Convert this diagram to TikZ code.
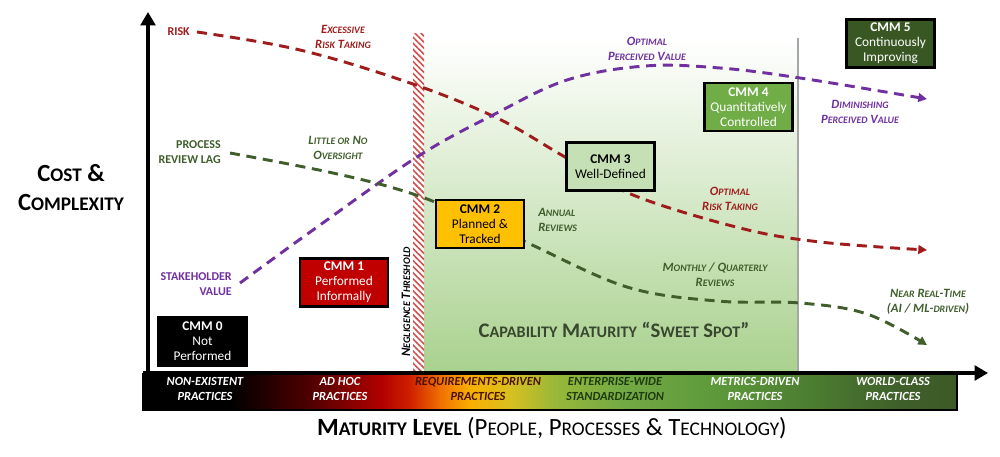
\documentclass[tikz,border=0pt]{standalone}
\usepackage{fontspec}
\setmainfont{Carlito}
\usetikzlibrary{arrows.meta,patterns.meta}
\makeatletter
\newcommand\sm[1]{{\fontsize{\fpeval{0.78*\f@size}}{\f@baselineskip}\selectfont #1}}
\makeatother
\definecolor{riskred}{HTML}{A01C1C}
\definecolor{procgreen}{HTML}{3F5E2B}
\definecolor{valpurple}{HTML}{7030A0}
\definecolor{cmmred}{HTML}{C00000}
\definecolor{cmmyellow}{HTML}{FFC000}
\definecolor{cmmlight}{HTML}{C5E0B4}
\definecolor{cmmgreen}{HTML}{70AD47}
\definecolor{cmmdark}{HTML}{385723}
\definecolor{sweetgreen}{HTML}{A9D18E}
\definecolor{sweettext}{HTML}{38472E}
\definecolor{hatchred}{HTML}{D0504D}
\definecolor{reqtext}{HTML}{4A1200}
\definecolor{entext}{HTML}{1E3A10}
\definecolor{ba}{HTML}{000000}
\definecolor{bb}{HTML}{500000}
\definecolor{bc}{HTML}{B00000}
\definecolor{bd}{HTML}{D02000}
\definecolor{be}{HTML}{F07000}
\definecolor{bf}{HTML}{F8B000}
\definecolor{bg}{HTML}{D8C020}
\definecolor{bh}{HTML}{98B838}
\definecolor{bi}{HTML}{74AA44}
\definecolor{bj}{HTML}{5C983A}
\definecolor{bk}{HTML}{4A7A30}
\definecolor{bl}{HTML}{3F5F2A}
\definecolor{bm}{HTML}{3C5A26}
\begin{document}
\begin{tikzpicture}[x=0.75pt,y=-0.75pt,
  cmmbox/.style={draw=black, line width=2pt, minimum width=66pt, minimum height=36pt,
    inner sep=0pt, align=center, font=\fontsize{10}{11.25}\selectfont},
  curve/.style={line width=2.2pt, dash pattern=on 7.5pt off 5pt,
    -{Triangle[length=6.5pt,width=6.5pt]}},
  sidelbl/.style={font=\fontsize{9}{11.25}\selectfont\bfseries, inner sep=0pt},
  itlbl/.style={font=\fontsize{9.5}{11.25}\selectfont\bfseries\itshape, align=center, inner sep=0pt},
  barlbl/.style={font=\fontsize{9.3}{11.25}\selectfont\bfseries\itshape, align=center, inner sep=0pt, text=white},
  axis/.style={line width=3pt, -{Triangle[length=10pt,width=11pt]}}
]
\useasboundingbox (0,0) rectangle (1000,457);

% sweet spot area
\shade[top color=white, bottom color=sweetgreen] (424,38) rectangle (798,373);
\draw[gray!70, line width=0.9pt] (798,38) -- (798,373);

% negligence threshold hatched bar
\fill[white] (413,33) rectangle (424,373);
\fill[pattern={Lines[angle=-45,distance=3.2pt,line width=1.2pt]}, pattern color=hatchred] (413,33) rectangle (424,373);
\node[rotate=90, font=\fontsize{9.7}{11.25}\selectfont\bfseries\itshape, inner sep=0pt] (negl) at (406,302) {N\sm{EGLIGENCE} T\sm{HRESHOLD}};

% curves
\coordinate (r0) at (197,32);
\coordinate (r1) at (300,50);
\coordinate (r2) at (410,83);
\coordinate (r3) at (497,118);
\coordinate (r4) at (565,157);
\coordinate (r5) at (633,195);
\coordinate (r6) at (740,228);
\coordinate (r7) at (820,242);
\coordinate (r8) at (927,250);
\draw[curve, riskred] plot[smooth, tension=0.6] coordinates {(r0) (r1) (r2) (r3) (r4) (r5) (r6) (r7) (r8)};

\coordinate (p0) at (240,283);
\coordinate (p1) at (313,230);
\coordinate (p2) at (417,157);
\coordinate (p3) at (493,115);
\coordinate (p4) at (567,80);
\coordinate (p5) at (645,66);
\coordinate (p6) at (720,68);
\coordinate (p7) at (800,78);
\coordinate (p8) at (927,99);
\draw[curve, valpurple] plot[smooth, tension=0.6] coordinates {(p0) (p1) (p2) (p3) (p4) (p5) (p6) (p7) (p8)};

\coordinate (g0) at (230,153);
\coordinate (g1) at (333,173);
\coordinate (g2) at (410,193);
\coordinate (g3) at (478,220);
\coordinate (g4) at (530,244);
\coordinate (g5) at (627,287);
\coordinate (g6) at (717,301);
\coordinate (g7) at (800,303);
\coordinate (g8) at (867,314);
\coordinate (g9) at (927,345);
\draw[curve, procgreen] plot[smooth, tension=0.6] coordinates {(g0) (g1) (g2) (g3) (g4) (g5) (g6) (g7) (g8) (g9)};

% CMM boxes
\node[cmmbox, fill=black, text=white] (c0) at (202.5,341.5) {\textbf{CMM 0}\\Not\\Performed};
\node[cmmbox, fill=cmmred, text=white] (c1) at (344,282.5) {\textbf{CMM 1}\\Performed\\Informally};
\node[cmmbox, fill=cmmyellow, text=black] (c2) at (480,224) {\textbf{CMM 2}\\Planned \&\\Tracked};
\node[cmmbox, fill=cmmlight, text=black] (c3) at (610.5,166.5) {\textbf{CMM 3}\\Well-Defined};
\node[cmmbox, fill=cmmgreen, text=white] (c4) at (748.5,107) {\textbf{CMM 4}\\Quantitatively\\Controlled};
\node[cmmbox, fill=cmmdark, text=white] (c5) at (890.5,43.5) {\textbf{CMM 5}\\Continuously\\Improving};

% curve labels
\node[sidelbl, text=riskred, anchor=east] (risklbl) at (190,32) {RISK};
\node[sidelbl, text=procgreen, anchor=east, align=right] (proclbl) at (221,152.5) {PROCESS\\REVIEW LAG};
\node[sidelbl, text=valpurple, anchor=east, align=right] (stakelbl) at (232,284.5) {STAKEHOLDER\\VALUE};
\node[itlbl, text=riskred] (excess) at (343,36.5) {E\sm{XCESSIVE}\\R\sm{ISK} T\sm{AKING}};
\node[itlbl, text=procgreen] (little) at (338,147.5) {L\sm{ITTLE OR} N\sm{O}\\O\sm{VERSIGHT}};
\node[itlbl, text=valpurple] (optpv) at (647,49) {O\sm{PTIMAL}\\P\sm{ERCEIVED} V\sm{ALUE}};
\node[itlbl, text=valpurple] (dimpv) at (860,112) {D\sm{IMINISHING}\\P\sm{ERCEIVED} V\sm{ALUE}};
\node[itlbl, text=riskred] (optrt) at (730,199) {O\sm{PTIMAL}\\R\sm{ISK} T\sm{AKING}};
\node[itlbl, text=procgreen, anchor=west, align=left] (annual) at (538,220) {A\sm{NNUAL}\\R\sm{EVIEWS}};
\node[itlbl, text=procgreen] (monthly) at (715,275) {M\sm{ONTHLY} / Q\sm{UARTERLY}\\R\sm{EVIEWS}};
\node[itlbl, text=procgreen] (nearrt) at (928,301.5) {N\sm{EAR} R\sm{EAL}-T\sm{IME}\\(AI / ML-\sm{DRIVEN})};
\node[font=\fontsize{15.5}{18}\selectfont\bfseries, text=sweettext, inner sep=0pt] (sweet) at (614,330) {C\sm{APABILITY} M\sm{ATURITY} ``S\sm{WEET} S\sm{POT}''};

% bottom bar
\foreach \xa/\xb/\ca/\cb in {143/230/ba/ba, 230/310/ba/bb, 310/380/bb/bc, 380/410/bc/bd, 410/440/bd/be, 440/470/be/bf, 470/510/bf/bg, 510/555/bg/bh, 555/620/bh/bi, 620/720/bi/bj, 720/820/bj/bk, 820/900/bk/bl, 900/957/bl/bm}
  \shade[left color=\ca, right color=\cb] (\xa,374) rectangle (\xb+0.6,410);
\draw[black, line width=0.8pt] (143,374) rectangle (957,410);
\node[barlbl] (b1) at (205,388.5) {NON-EXISTENT\\PRACTICES};
\node[barlbl] (b2) at (340,388.5) {AD HOC\\PRACTICES};
\node[barlbl, text=reqtext] (b3) at (478,388.5) {REQUIREMENTS-DRIVEN\\PRACTICES};
\node[barlbl, text=entext] (b4) at (615,388.5) {ENTERPRISE-WIDE\\STANDARDIZATION};
\node[barlbl] (b5) at (755,388.5) {METRICS-DRIVEN\\PRACTICES};
\node[barlbl] (b6) at (893,388.5) {WORLD-CLASS\\PRACTICES};

% axes
\coordinate (origin) at (148,374);
\coordinate (ytip) at (148,12);
\coordinate (xstart) at (143,373);
\coordinate (xtip) at (988,373);
\draw[axis] (origin) -- (ytip);
\draw[axis] (xstart) -- (xtip);

% axis titles
\node[font=\fontsize{18.5}{21.75}\selectfont\bfseries, align=center, inner sep=0pt] (cost) at (71,187.5) {C\sm{OST} \&\\C\sm{OMPLEXITY}};
\node[font=\fontsize{18.6}{21}\selectfont, inner sep=0pt] (maturity) at (552,428) {{\bfseries M\sm{ATURITY} L\sm{EVEL}} (P\sm{EOPLE}, P\sm{ROCESSES} \& T\sm{ECHNOLOGY})};
\end{tikzpicture}
\end{document}
